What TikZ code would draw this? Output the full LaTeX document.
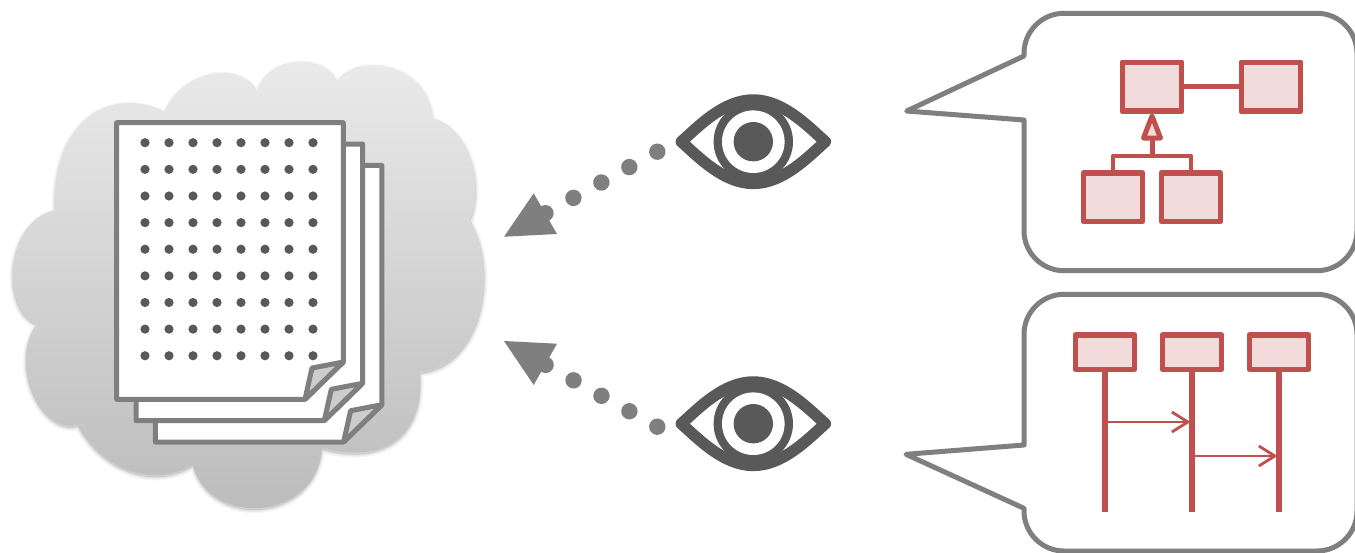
\documentclass[tikz,border=0pt]{standalone}
\usetikzlibrary{arrows.meta,calc}
\definecolor{linegray}{HTML}{7F7F7F}
\definecolor{darkgray}{HTML}{595959}
\definecolor{foldgray}{HTML}{CCCCCC}
\definecolor{umlred}{HTML}{C0504D}
\definecolor{umlpink}{HTML}{F2DCDB}
\def\cloudpath{(165,111.7) .. controls (185,66) and (245,62) .. (257,92.7)
 .. controls (268,52) and (330,54) .. (337,83.3)
 .. controls (352,52) and (428,60) .. (432,118)
 .. controls (470,128) and (485,185) .. (470,220)
 .. controls (500,270) and (483,366) .. (420,372)
 .. controls (425,425) and (394,467) .. (322,448)
 .. controls (316,522) and (210,528) .. (193,465)
 .. controls (150,490) and (100,467) .. (78,425)
 .. controls (40,435) and (8,362) .. (37,324)
 .. controls (0,310) and (4,222) .. (55,210)
 .. controls (52,120) and (110,85) .. (165,111.7) -- cycle}
\tikzset{
 x=1pt,y=-1pt,
 sheetline/.style={draw=linegray,line width=5pt,line join=round},
 bubble/.style={draw=linegray,line width=5pt,line join=round,fill=white},
 umlbox/.style={draw=umlred,fill=umlpink,line width=5.2pt,line join=round,rectangle,outer sep=0pt,inner sep=0pt,minimum width=59.4pt,minimum height=48.7pt},
 seqbox/.style={umlbox,minimum height=34.3pt},
 umlline/.style={draw=umlred,line width=#1},
 umlline/.default=5pt,
 lookdots/.style={draw=linegray,line width=16.4pt,line cap=round,dash pattern=on 0.01pt off 31.9pt},
 looktip/.style={fill=linegray},
 msg/.style={draw=umlred,line width=2.8pt,-{Straight Barb[length=16pt,width=20pt,line width=2.8pt]}},
 docsheet/.pic={
  \path[sheetline,fill=white] (116.7,122.7) -- (343.3,122.7) -- (343.3,362) -- (305,399.3) -- (116.7,399.3) -- cycle;
  \path[sheetline,fill=foldgray] (343.3,362) -- (312,368) -- (305,399.3) -- cycle;
 },
 eyepic/.pic={
  \path[draw=darkgray,fill=white,line width=11.5pt,line join=round]
   (-72,0) .. controls (-55,-15) and (-30,-41.7) .. (0,-41.7)
   .. controls (30,-41.7) and (55,-15) .. (72,0)
   .. controls (55,15) and (30,41.7) .. (0,41.7)
   .. controls (-30,41.7) and (-55,15) .. (-72,0) -- cycle;
  \node[circle,fill=darkgray,inner sep=0pt,outer sep=0pt,minimum size=79.4pt] (-iris) at (0,0) {};
  \fill[white] (0,0) circle (31.3pt);
  \fill[darkgray] (0,0) circle (19.7pt);
 }
}
\begin{document}
\begin{tikzpicture}
\useasboundingbox (0,0) rectangle (1355,552);
\fill[white] (0,0) rectangle (1355,552);
% cloud with soft shadow
\begin{scope}[yshift=-2pt]
\foreach \w in {6,4,2}{
 \path[draw=black,fill=black,line width=\w pt,line join=round,opacity=0.035] \cloudpath;
}
\end{scope}
\shade[top color=white!92!black,bottom color=white!73!black] \cloudpath;
% pages
\pic at (38.6,42.7) {docsheet};
\pic at (19.3,21.3) {docsheet};
\pic at (0,0) {docsheet};
\foreach \i in {0,...,7}{
 \foreach \j in {0,...,8}{
  \fill[darkgray] ({145+24*\i},{142.7+26.63*\j}) circle (4.6pt);
 }
}
% eyes
\pic (eyeA) at (753.3,141.7) {eyepic};
\pic (eyeB) at (753.3,423.7) {eyepic};
% looking connectors
\coordinate (dotAs) at (657.3,151.7);
\coordinate (dotAe) at (545.3,213.3);
\coordinate (dotBs) at (657.3,426.7);
\coordinate (dotBe) at (545.3,364.7);
\coordinate (tipA1) at (504,236.7);
\coordinate (tipA2) at (557,234);
\coordinate (tipA3) at (533.7,193.3);
\coordinate (tipB1) at (504,341);
\coordinate (tipB2) at (557,343.7);
\coordinate (tipB3) at (533.7,385);
\draw[lookdots] (dotAs) -- (dotAe);
\draw[lookdots] (dotBs) -- (dotBe);
\fill[looktip] (tipA1) -- (tipA2) -- (tipA3) -- cycle;
\fill[looktip] (tipB1) -- (tipB2) -- (tipB3) -- cycle;
% speech bubbles
\path[bubble] (1024,53.3) .. controls (1024,31.2) and (1042,13.3) .. (1064,13.3) -- (1317,13.3)
 .. controls (1339,13.3) and (1357,31.2) .. (1357,53.3) -- (1357,230.7)
 .. controls (1357,252.8) and (1339,270.7) .. (1317,270.7) -- (1064,270.7)
 .. controls (1042,270.7) and (1024,252.8) .. (1024,230.7) -- (1024,120) -- (906.7,111) -- (1024,56) -- cycle;
\path[bubble] (1024,334.3) .. controls (1024,312.2) and (1042,294.3) .. (1064,294.3) -- (1317,294.3)
 .. controls (1339,294.3) and (1357,312.2) .. (1357,334.3) -- (1357,511)
 .. controls (1357,533.1) and (1339,551) .. (1317,551) -- (1064,551)
 .. controls (1042,551) and (1024,533.1) .. (1024,511) -- (1024,508.3) -- (906,454.3) -- (1024,445) -- cycle;
% class diagram
\node[umlbox] (c1) at (1152,86.7) {};
\node[umlbox] (c2) at (1270.8,86.7) {};
\node[umlbox] (c3) at (1113,197.3) {};
\node[umlbox] (c4) at (1190.8,197.3) {};
\draw[umlline=5.3pt] (c1) -- (c2);
\node[umlbox] at (c1) {};
\node[umlbox] at (c2) {};
\coordinate (apex) at (1152,116);
\coordinate (baseL) at (1143.5,138);
\coordinate (baseR) at (1160.5,138);
\coordinate (baseM) at (1152,138);
\coordinate (busM) at (1152,155.7);
\path[draw=umlred,fill=umlpink,line width=5pt,line join=round] (apex) -- (baseL) -- (baseR) -- cycle;
\draw[umlline] (baseM) -- (busM);
\draw[umlline=4.4pt,line join=round] (c3.north) -- (c3.north |- busM) -- (c4.north |- busM) -- (c4.north);
% sequence diagram
\node[seqbox] (s1) at (1105,352.2) {};
\node[seqbox] (s2) at (1192,352.2) {};
\node[seqbox] (s3) at (1279,352.2) {};
\coordinate (lifeEnd) at (1192,512.3);
\draw[umlline=5.2pt] (s1.south) -- (s1.south |- lifeEnd);
\draw[umlline=5.2pt] (s2.south) -- (s2.south |- lifeEnd);
\draw[umlline=5.2pt] (s3.south) -- (s3.south |- lifeEnd);
\coordinate (m1) at (0,422);
\coordinate (m2) at (0,456);
\draw[msg] (s1.south |- m1) -- ($(s2.south |- m1)+(-1.5,0)$);
\draw[msg] (s2.south |- m2) -- ($(s3.south |- m2)+(-1.5,0)$);
\end{tikzpicture}
\end{document}
